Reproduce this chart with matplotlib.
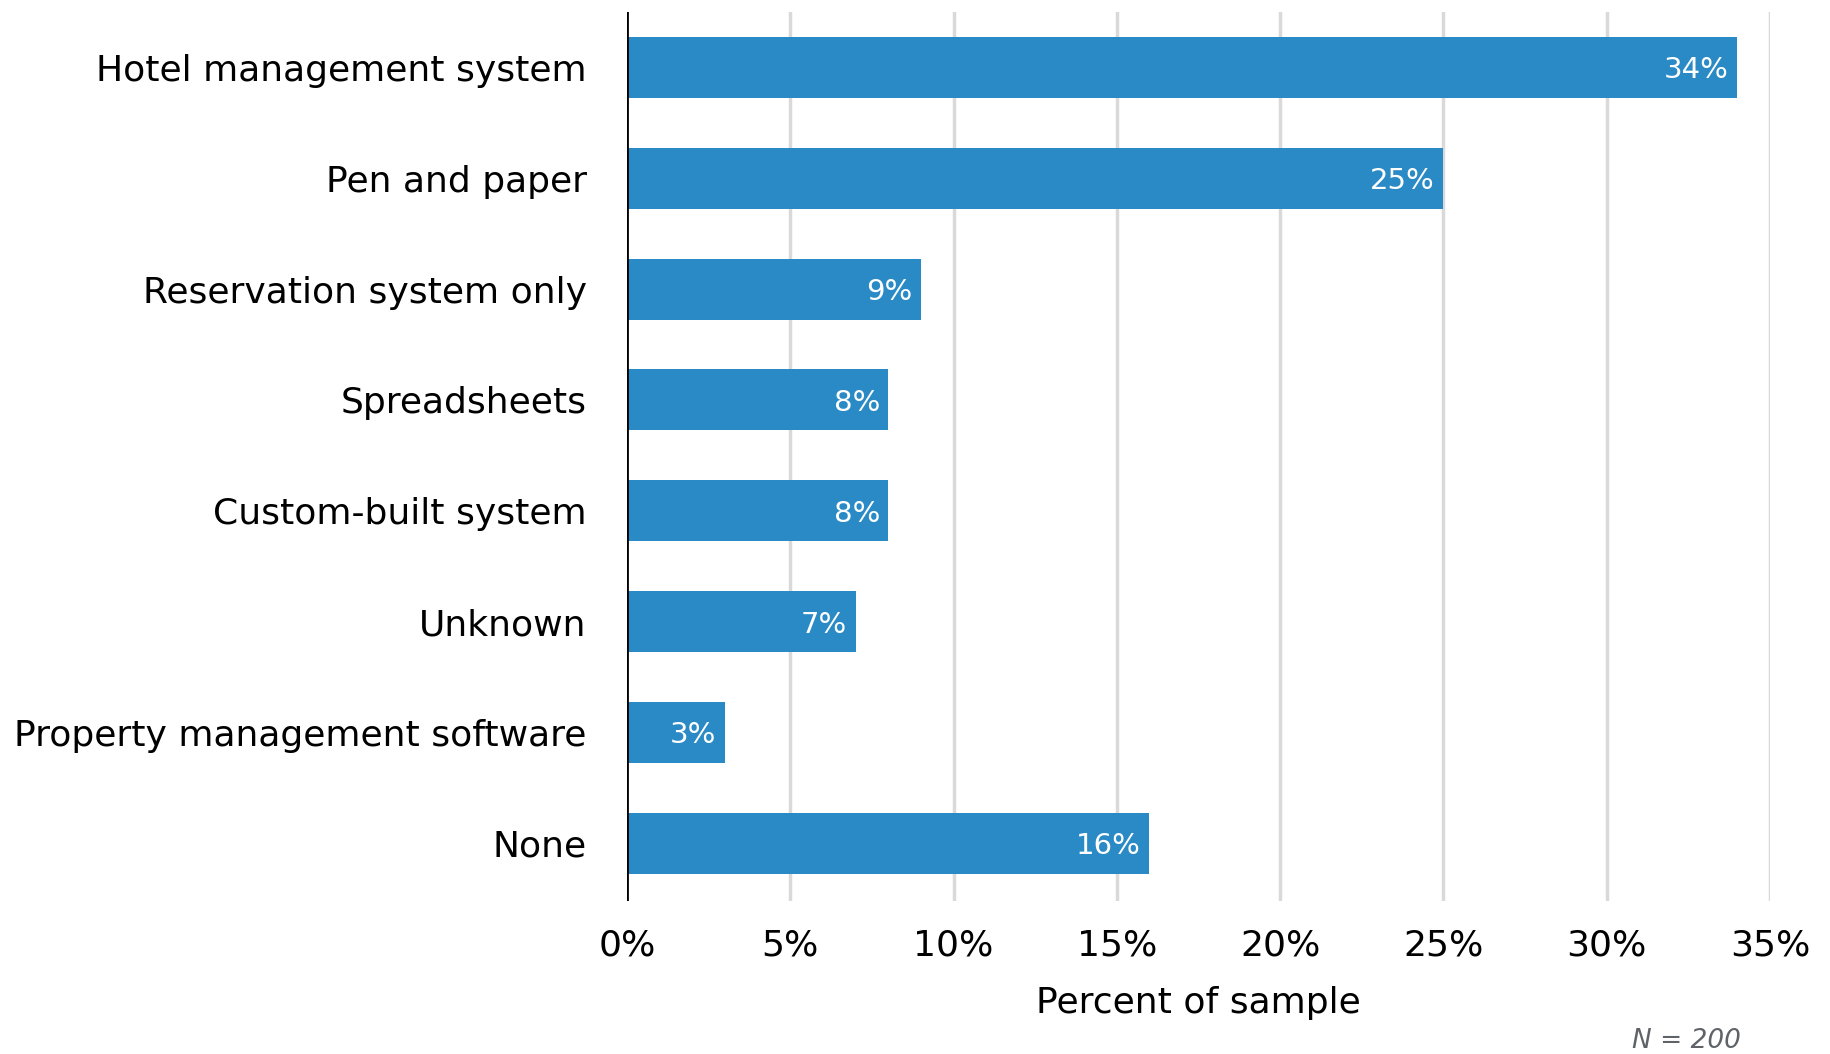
import matplotlib
matplotlib.use("Agg")
import matplotlib.pyplot as plt
import numpy as np

plt.rcParams['font.family'] = ['DejaVu Sans']

categories = [
    "Hotel management system",
    "Pen and paper",
    "Reservation system only",
    "Spreadsheets",
    "Custom-built system",
    "Unknown",
    "Property management software",
    "None",
]
percents = [34, 25, 9, 8, 8, 7, 3, 16]
xticks = [0, 5, 10, 15, 20, 25, 30, 35]
n_sample = 200

bar_color = "#2a8ac6"
grid_color = "#d9d9d9"

fig = plt.figure(figsize=(18.3, 10.54), dpi=100)
ax = fig.add_axes([0.3426, 0.1452, 0.6246, 0.8434])

y = np.arange(len(categories))
bars = ax.barh(y, percents, height=0.55, color=bar_color, zorder=3)

# value labels inside the bar ends
for b, v in zip(bars, percents):
    ax.annotate(f"{v}%", xy=(b.get_width(), b.get_y() + b.get_height() / 2),
                xytext=(-6, 0), textcoords="offset points",
                ha="right", va="center_baseline", color="white", fontsize=21, zorder=4)

ax.set_xlim(0, 35)
ax.set_ylim(7.52, -0.5)
ax.set_xticks(xticks)
ax.set_xticklabels([f"{t}%" for t in xticks], fontsize=26)
ax.set_yticks(y)
ax.set_yticklabels(categories, fontsize=26)

for t in xticks[1:]:
    ax.axvline(t, color=grid_color, lw=2.5, zorder=1)
ax.axvline(0, color="black", lw=2, zorder=5)

for s in ax.spines.values():
    s.set_visible(False)
ax.tick_params(axis="y", length=0, pad=29)
ax.tick_params(axis="x", length=0, pad=20)

ax.set_xlabel("Percent of sample", fontsize=26, labelpad=17)

fig.text(1741 / 1830, 1 - 1041 / 1054, f"N = {n_sample}", ha="right", va="center",
         fontsize=19, style="italic", color="#5f6368")

fig.savefig("out.png", dpi=100)
